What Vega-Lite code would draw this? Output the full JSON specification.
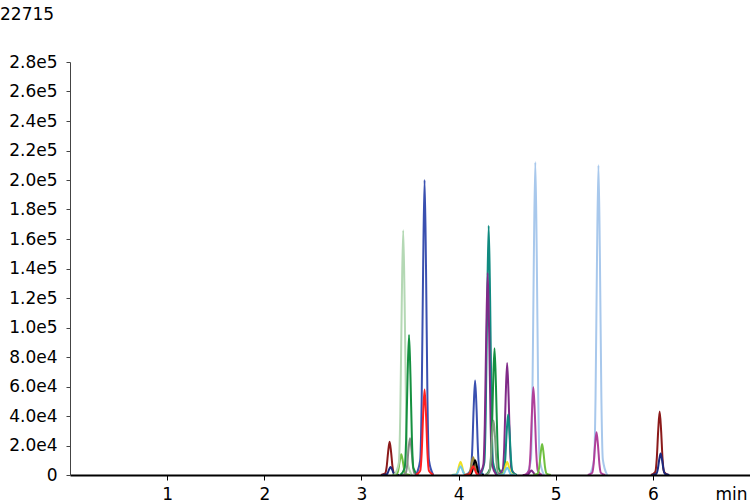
{
  "$schema": "https://vega.github.io/schema/vega-lite/v6.json",
  "autosize": {"type": "none"},
  "padding": {"left": 70, "top": 62, "right": 0, "bottom": 27},
  "width": 680,
  "height": 413,
  "background": "white",
  "title": {"text": "22715", "anchor": "start", "frame": "group", "dx": -70, "offset": 16, "baseline": "alphabetic", "font": "DejaVu Sans", "fontSize": 17, "fontWeight": "normal", "color": "#000000"},
  "config": {"view": {"stroke": null}, "font": "DejaVu Sans"},
  "data": {"values": [
    {"p":"A","t":3.20,"v":0},{"p":"A","t":3.245,"v":1125},{"p":"A","t":3.26,"v":5625},{"p":"A","t":3.275,"v":15750},{"p":"A","t":3.29,"v":22500},{"p":"A","t":3.305,"v":15750},{"p":"A","t":3.32,"v":5625},{"p":"A","t":3.335,"v":1125},{"p":"A","t":3.38,"v":0},
    {"p":"B","t":3.21,"v":0},{"p":"B","t":3.255,"v":275},{"p":"B","t":3.27,"v":1375},{"p":"B","t":3.285,"v":3850},{"p":"B","t":3.30,"v":5500},{"p":"B","t":3.315,"v":3850},{"p":"B","t":3.33,"v":1375},{"p":"B","t":3.345,"v":275},{"p":"B","t":3.39,"v":0},
    {"p":"C","t":3.32,"v":0},{"p":"C","t":3.365,"v":700},{"p":"C","t":3.38,"v":3500},{"p":"C","t":3.395,"v":9800},{"p":"C","t":3.41,"v":14000},{"p":"C","t":3.425,"v":9800},{"p":"C","t":3.44,"v":3500},{"p":"C","t":3.455,"v":700},{"p":"C","t":3.50,"v":0},
    {"p":"D","t":3.34,"v":0},{"p":"D","t":3.385,"v":8300},{"p":"D","t":3.40,"v":41500},{"p":"D","t":3.415,"v":116200},{"p":"D","t":3.43,"v":166000},{"p":"D","t":3.445,"v":116200},{"p":"D","t":3.46,"v":41500},{"p":"D","t":3.475,"v":8300},{"p":"D","t":3.52,"v":0},
    {"p":"E","t":3.41,"v":0},{"p":"E","t":3.455,"v":1250},{"p":"E","t":3.47,"v":6250},{"p":"E","t":3.485,"v":17500},{"p":"E","t":3.50,"v":25000},{"p":"E","t":3.515,"v":17500},{"p":"E","t":3.53,"v":6250},{"p":"E","t":3.545,"v":1250},{"p":"E","t":3.59,"v":0},
    {"p":"F","t":3.40,"v":0},{"p":"F","t":3.445,"v":4750},{"p":"F","t":3.46,"v":23750},{"p":"F","t":3.475,"v":66500},{"p":"F","t":3.49,"v":95000},{"p":"F","t":3.505,"v":66500},{"p":"F","t":3.52,"v":23750},{"p":"F","t":3.535,"v":4750},{"p":"F","t":3.58,"v":0},
    {"p":"G","t":3.56,"v":0},{"p":"G","t":3.605,"v":10000},{"p":"G","t":3.62,"v":50000},{"p":"G","t":3.635,"v":140000},{"p":"G","t":3.65,"v":200000},{"p":"G","t":3.665,"v":140000},{"p":"G","t":3.68,"v":50000},{"p":"G","t":3.695,"v":10000},{"p":"G","t":3.74,"v":0},
    {"p":"H","t":3.56,"v":0},{"p":"H","t":3.605,"v":2900},{"p":"H","t":3.62,"v":14500},{"p":"H","t":3.635,"v":40600},{"p":"H","t":3.65,"v":58000},{"p":"H","t":3.665,"v":40600},{"p":"H","t":3.68,"v":14500},{"p":"H","t":3.695,"v":2900},{"p":"H","t":3.74,"v":0},
    {"p":"I","t":3.93,"v":0},{"p":"I","t":3.975,"v":450},{"p":"I","t":3.99,"v":2250},{"p":"I","t":4.005,"v":6300},{"p":"I","t":4.02,"v":9000},{"p":"I","t":4.035,"v":6300},{"p":"I","t":4.05,"v":2250},{"p":"I","t":4.065,"v":450},{"p":"I","t":4.11,"v":0},
    {"p":"J","t":3.93,"v":0},{"p":"J","t":3.975,"v":300},{"p":"J","t":3.99,"v":1500},{"p":"J","t":4.005,"v":4200},{"p":"J","t":4.02,"v":6000},{"p":"J","t":4.035,"v":4200},{"p":"J","t":4.05,"v":1500},{"p":"J","t":4.065,"v":300},{"p":"J","t":4.11,"v":0},
    {"p":"K","t":4.08,"v":0},{"p":"K","t":4.125,"v":3200},{"p":"K","t":4.14,"v":16000},{"p":"K","t":4.155,"v":44800},{"p":"K","t":4.17,"v":64000},{"p":"K","t":4.185,"v":44800},{"p":"K","t":4.20,"v":16000},{"p":"K","t":4.215,"v":3200},{"p":"K","t":4.26,"v":0},
    {"p":"L","t":4.06,"v":0},{"p":"L","t":4.105,"v":600},{"p":"L","t":4.12,"v":3000},{"p":"L","t":4.135,"v":8400},{"p":"L","t":4.15,"v":12000},{"p":"L","t":4.165,"v":8400},{"p":"L","t":4.18,"v":3000},{"p":"L","t":4.195,"v":600},{"p":"L","t":4.24,"v":0},
    {"p":"M","t":4.08,"v":0},{"p":"M","t":4.125,"v":500},{"p":"M","t":4.14,"v":2500},{"p":"M","t":4.155,"v":7000},{"p":"M","t":4.17,"v":10000},{"p":"M","t":4.185,"v":7000},{"p":"M","t":4.20,"v":2500},{"p":"M","t":4.215,"v":500},{"p":"M","t":4.26,"v":0},
    {"p":"N","t":4.06,"v":0},{"p":"N","t":4.105,"v":300},{"p":"N","t":4.12,"v":1500},{"p":"N","t":4.135,"v":4200},{"p":"N","t":4.15,"v":6000},{"p":"N","t":4.165,"v":4200},{"p":"N","t":4.18,"v":1500},{"p":"N","t":4.195,"v":300},{"p":"N","t":4.24,"v":0},
    {"p":"O","t":4.22,"v":0},{"p":"O","t":4.265,"v":8450},{"p":"O","t":4.28,"v":42250},{"p":"O","t":4.295,"v":118300},{"p":"O","t":4.31,"v":169000},{"p":"O","t":4.325,"v":118300},{"p":"O","t":4.34,"v":42250},{"p":"O","t":4.355,"v":8450},{"p":"O","t":4.40,"v":0},
    {"p":"P","t":4.21,"v":0},{"p":"P","t":4.255,"v":6850},{"p":"P","t":4.27,"v":34250},{"p":"P","t":4.285,"v":95900},{"p":"P","t":4.30,"v":137000},{"p":"P","t":4.315,"v":95900},{"p":"P","t":4.33,"v":34250},{"p":"P","t":4.345,"v":6850},{"p":"P","t":4.39,"v":0},
    {"p":"Q","t":4.28,"v":0},{"p":"Q","t":4.325,"v":4300},{"p":"Q","t":4.34,"v":21500},{"p":"Q","t":4.355,"v":60200},{"p":"Q","t":4.37,"v":86000},{"p":"Q","t":4.385,"v":60200},{"p":"Q","t":4.40,"v":21500},{"p":"Q","t":4.415,"v":4300},{"p":"Q","t":4.46,"v":0},
    {"p":"R","t":4.27,"v":0},{"p":"R","t":4.315,"v":1850},{"p":"R","t":4.33,"v":9250},{"p":"R","t":4.345,"v":25900},{"p":"R","t":4.36,"v":37000},{"p":"R","t":4.375,"v":25900},{"p":"R","t":4.39,"v":9250},{"p":"R","t":4.405,"v":1850},{"p":"R","t":4.45,"v":0},
    {"p":"S","t":4.41,"v":0},{"p":"S","t":4.455,"v":3800},{"p":"S","t":4.47,"v":19000},{"p":"S","t":4.485,"v":53200},{"p":"S","t":4.50,"v":76000},{"p":"S","t":4.515,"v":53200},{"p":"S","t":4.53,"v":19000},{"p":"S","t":4.545,"v":3800},{"p":"S","t":4.59,"v":0},
    {"p":"T","t":4.42,"v":0},{"p":"T","t":4.465,"v":2050},{"p":"T","t":4.48,"v":10250},{"p":"T","t":4.495,"v":28700},{"p":"T","t":4.51,"v":41000},{"p":"T","t":4.525,"v":28700},{"p":"T","t":4.54,"v":10250},{"p":"T","t":4.555,"v":2050},{"p":"T","t":4.60,"v":0},
    {"p":"U","t":4.41,"v":0},{"p":"U","t":4.455,"v":450},{"p":"U","t":4.47,"v":2250},{"p":"U","t":4.485,"v":6300},{"p":"U","t":4.50,"v":9000},{"p":"U","t":4.515,"v":6300},{"p":"U","t":4.53,"v":2250},{"p":"U","t":4.545,"v":450},{"p":"U","t":4.59,"v":0},
    {"p":"V","t":4.41,"v":0},{"p":"V","t":4.455,"v":250},{"p":"V","t":4.47,"v":1250},{"p":"V","t":4.485,"v":3500},{"p":"V","t":4.50,"v":5000},{"p":"V","t":4.515,"v":3500},{"p":"V","t":4.53,"v":1250},{"p":"V","t":4.545,"v":250},{"p":"V","t":4.59,"v":0},
    {"p":"W","t":4.70,"v":0},{"p":"W","t":4.745,"v":10600},{"p":"W","t":4.76,"v":53000},{"p":"W","t":4.775,"v":148400},{"p":"W","t":4.79,"v":212000},{"p":"W","t":4.805,"v":148400},{"p":"W","t":4.82,"v":53000},{"p":"W","t":4.835,"v":10600},{"p":"W","t":4.88,"v":0},
    {"p":"X","t":4.68,"v":0},{"p":"X","t":4.725,"v":2975},{"p":"X","t":4.74,"v":14875},{"p":"X","t":4.755,"v":41650},{"p":"X","t":4.77,"v":59500},{"p":"X","t":4.785,"v":41650},{"p":"X","t":4.80,"v":14875},{"p":"X","t":4.815,"v":2975},{"p":"X","t":4.86,"v":0},
    {"p":"Y","t":4.66,"v":0},{"p":"Y","t":4.705,"v":150},{"p":"Y","t":4.72,"v":750},{"p":"Y","t":4.735,"v":2100},{"p":"Y","t":4.75,"v":3000},{"p":"Y","t":4.765,"v":2100},{"p":"Y","t":4.78,"v":750},{"p":"Y","t":4.795,"v":150},{"p":"Y","t":4.84,"v":0},
    {"p":"Z","t":4.77,"v":0},{"p":"Z","t":4.815,"v":1050},{"p":"Z","t":4.83,"v":5250},{"p":"Z","t":4.845,"v":14700},{"p":"Z","t":4.86,"v":21000},{"p":"Z","t":4.875,"v":14700},{"p":"Z","t":4.89,"v":5250},{"p":"Z","t":4.905,"v":1050},{"p":"Z","t":4.95,"v":0},
    {"p":"AA","t":5.35,"v":0},{"p":"AA","t":5.395,"v":10500},{"p":"AA","t":5.41,"v":52500},{"p":"AA","t":5.425,"v":147000},{"p":"AA","t":5.44,"v":210000},{"p":"AA","t":5.455,"v":147000},{"p":"AA","t":5.47,"v":52500},{"p":"AA","t":5.485,"v":10500},{"p":"AA","t":5.53,"v":0},
    {"p":"AB","t":5.33,"v":0},{"p":"AB","t":5.375,"v":1450},{"p":"AB","t":5.39,"v":7250},{"p":"AB","t":5.405,"v":20300},{"p":"AB","t":5.42,"v":29000},{"p":"AB","t":5.435,"v":20300},{"p":"AB","t":5.45,"v":7250},{"p":"AB","t":5.465,"v":1450},{"p":"AB","t":5.51,"v":0},
    {"p":"AC","t":5.98,"v":0},{"p":"AC","t":6.025,"v":2150},{"p":"AC","t":6.04,"v":10750},{"p":"AC","t":6.055,"v":30100},{"p":"AC","t":6.07,"v":43000},{"p":"AC","t":6.085,"v":30100},{"p":"AC","t":6.10,"v":10750},{"p":"AC","t":6.115,"v":2150},{"p":"AC","t":6.16,"v":0},
    {"p":"AD","t":5.99,"v":0},{"p":"AD","t":6.035,"v":725},{"p":"AD","t":6.05,"v":3625},{"p":"AD","t":6.065,"v":10150},{"p":"AD","t":6.08,"v":14500},{"p":"AD","t":6.095,"v":10150},{"p":"AD","t":6.11,"v":3625},{"p":"AD","t":6.125,"v":725},{"p":"AD","t":6.17,"v":0}
  ]},
  "mark": {"type": "line", "interpolate": "monotone", "strokeWidth": 2, "clip": true},
  "encoding": {
    "x": {"field": "t", "type": "quantitative",
      "scale": {"domain": [0, 7], "nice": false, "zero": false},
      "axis": {"values": [1, 2, 3, 4, 5, 6], "grid": false, "domainColor": "#000000", "domainWidth": 2, "tickColor": "#000000", "tickWidth": 1, "tickSize": 5, "labelFont": "DejaVu Sans", "labelFontSize": 17, "labelColor": "#000000", "labelPadding": 6, "title": "min", "titleFont": "DejaVu Sans", "titleFontSize": 17, "titleFontWeight": "normal", "titleColor": "#000000", "titleX": 677, "titleY": 24, "titleAlign": "right", "titleBaseline": "alphabetic", "titleAnchor": "end", "zindex": 1}},
    "y": {"field": "v", "type": "quantitative",
      "scale": {"domain": [0, 280000], "nice": false},
      "axis": {"values": [0, 20000, 40000, 60000, 80000, 100000, 120000, 140000, 160000, 180000, 200000, 220000, 240000, 260000, 280000], "labelExpr": "datum.value == 0 ? '0' : replace(format(datum.value, '.1e'), '+', '')", "grid": false, "domainColor": "#444444", "domainWidth": 1, "tickColor": "#444444", "tickSize": 4, "labelFont": "DejaVu Sans", "labelFontSize": 17, "labelColor": "#000000", "labelPadding": 9, "title": null, "zindex": 1}},
    "color": {"field": "p", "type": "nominal", "legend": null,
      "scale": {
        "domain": ["A","B","C","D","E","F","G","H","I","J","K","L","M","N","O","P","Q","R","S","T","U","V","W","X","Y","Z","AA","AB","AC","AD"],
        "range": ["#8b1a1a","#1c2a80","#70c040","#b4d8b4","#888888","#159040","#3a50b0","#ff2020","#f0e020","#70c8e8","#3a50b0","#9a8a40","#000000","#ff2020","#108a80","#802a88","#159040","#80a080","#802a88","#108a80","#f0e020","#70c8e8","#a8c8ec","#b0409a","#802a88","#70c040","#a8c8ec","#b0409a","#8b1a1a","#1c2a80"]}},
    "detail": {"field": "p"}
  }
}
